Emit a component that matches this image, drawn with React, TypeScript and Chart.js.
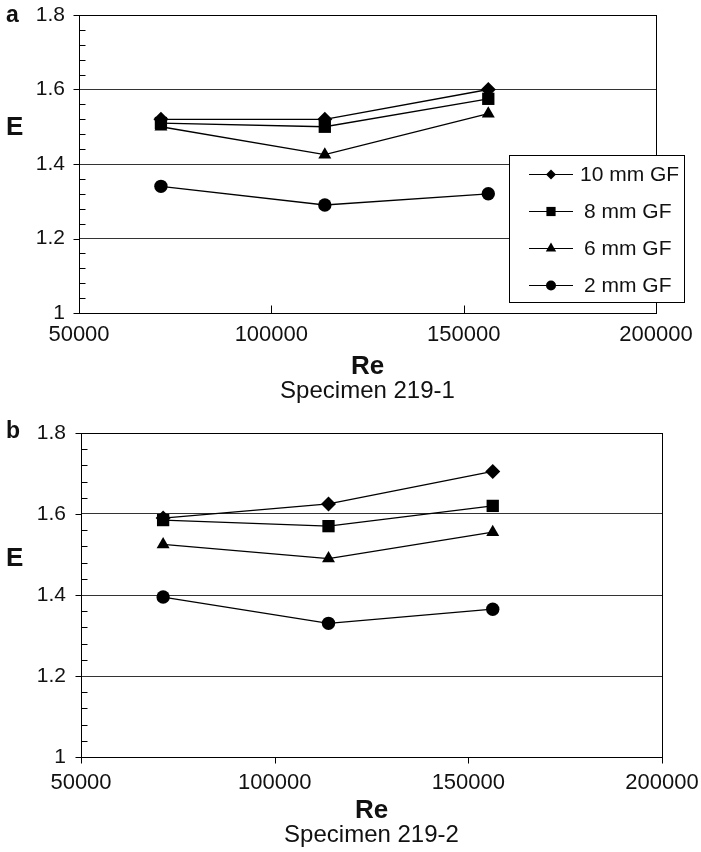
import React, { useEffect, useRef } from 'react';
import { Chart, registerables } from 'chart.js';

Chart.register(...registerables);

// ---------- data ----------
const seriesNames = ['10 mm GF', '8 mm GF', '6 mm GF', '2 mm GF'];
const pointStyles = ['rectRot', 'rect', 'triangle', 'circle'];
const pointRadii = [7.5, 8.7, 7.5, 6.7];

const reA = [71300, 113900, 156400];
const e10A = [1.52, 1.52, 1.6];
const e8A = [1.51, 1.5, 1.575];
const e6A = [1.5, 1.425, 1.535];
const e2A = [1.34, 1.29, 1.32];

const reB = [71200, 113900, 156300];
const e10B = [1.59, 1.625, 1.705];
const e8B = [1.585, 1.57, 1.62];
const e6B = [1.525, 1.49, 1.555];
const e2B = [1.395, 1.33, 1.365];

const xTickValues = [50000, 100000, 150000, 200000];
const yTickValues = [1, 1.2, 1.4, 1.6, 1.8];
const yMinorStep = 0.04;

const FONT = '"Liberation Sans", Arial, Helvetica, sans-serif';

function drawMarker(ctx: CanvasRenderingContext2D, style: string, x: number, y: number, r: number) {
  ctx.beginPath();
  if (style === 'circle') {
    ctx.arc(x, y, r, 0, Math.PI * 2);
  } else if (style === 'rect') {
    const s = Math.SQRT1_2 * r;
    ctx.rect(x - s, y - s, 2 * s, 2 * s);
  } else if (style === 'rectRot') {
    ctx.moveTo(x, y - r);
    ctx.lineTo(x + r, y);
    ctx.lineTo(x, y + r);
    ctx.lineTo(x - r, y);
    ctx.closePath();
  } else if (style === 'triangle') {
    ctx.moveTo(x, y - r);
    ctx.lineTo(x + r * Math.sin(Math.PI * 2 / 3), y - r * Math.cos(Math.PI * 2 / 3));
    ctx.lineTo(x - r * Math.sin(Math.PI * 2 / 3), y - r * Math.cos(Math.PI * 2 / 3));
    ctx.closePath();
  }
  ctx.fill();
}

type PanelCfg = {
  letter: string;
  caption: string;
  re: number[];
  series: number[][];
  height: number;
  plotLeft: number;
  plotRight: number;
  plotTop: number;
  plotBottom: number;
  xTicksInside: boolean;
  xLabelPad: number;
  yLabelPad: number;
  eBaseline: number;
  letterBaseline: number;
  legend: boolean;
};

function makeDecor(cfg: PanelCfg) {
  return {
    id: 'decor',
    afterDraw(chart: any) {
      const ctx: CanvasRenderingContext2D = chart.ctx;
      const area = chart.chartArea;
      const xs = chart.scales.x;
      const ys = chart.scales.y;
      ctx.save();
      ctx.strokeStyle = '#000';
      ctx.lineWidth = 1;
      // frame
      ctx.strokeRect(Math.round(area.left) + 0.5, Math.round(area.top) + 0.5,
        Math.round(area.right - area.left), Math.round(area.bottom - area.top));
      // y ticks
      const n = Math.round((ys.max - ys.min) / yMinorStep);
      const lx = Math.round(area.left) + 0.5;
      for (let i = 0; i <= n; i++) {
        const v = ys.min + i * yMinorStep;
        const py = Math.round(ys.getPixelForValue(v)) + 0.5;
        ctx.beginPath();
        if (i % 5 === 0) {
          ctx.moveTo(lx - 6, py);
          ctx.lineTo(lx, py);
        } else {
          ctx.moveTo(lx, py);
          ctx.lineTo(lx + 6, py);
        }
        ctx.stroke();
      }
      // x ticks
      const by = Math.round(area.bottom) + 0.5;
      xTickValues.forEach((v) => {
        const px = Math.round(xs.getPixelForValue(v)) + 0.5;
        ctx.beginPath();
        if (cfg.xTicksInside) {
          ctx.moveTo(px, by);
          ctx.lineTo(px, by - 8);
        } else {
          ctx.moveTo(px, by);
          ctx.lineTo(px, by + 6);
        }
        ctx.stroke();
      });
      // texts
      ctx.fillStyle = '#111';
      ctx.textBaseline = 'alphabetic';
      ctx.textAlign = 'left';
      ctx.font = `bold 23px ${FONT}`;
      ctx.fillText(cfg.letter, 6, area.top + cfg.letterBaseline);
      ctx.font = `bold 26px ${FONT}`;
      ctx.fillText('E', 6, area.top + cfg.eBaseline);
      const cx = (area.left + area.right) / 2;
      ctx.textAlign = 'center';
      ctx.font = `bold 26px ${FONT}`;
      ctx.fillText('Re', cx, area.bottom + 60.5);
      ctx.font = `24px ${FONT}`;
      ctx.fillText(cfg.caption, cx, area.bottom + 85);

      // legend
      if (cfg.legend) {
        const bx = 509.5, bt = 155.5, bw = 175, bh = 147;
        ctx.fillStyle = '#fff';
        ctx.fillRect(bx, bt, bw, bh);
        ctx.strokeStyle = '#000';
        ctx.lineWidth = 1;
        ctx.strokeRect(bx, bt, bw, bh);
        const rowY = [174, 211, 248, 285];
        const legR = [5, 6.5, 6, 5];
        chart.data.datasets.forEach((ds: any, i: number) => {
          const y = rowY[i] + 0.5;
          ctx.strokeStyle = '#000';
          ctx.lineWidth = 1.2;
          ctx.beginPath();
          ctx.moveTo(529, y);
          ctx.lineTo(573, y);
          ctx.stroke();
          ctx.fillStyle = '#000';
          drawMarker(ctx, ds.pointStyle, 551, y, legR[i]);
          ctx.fillStyle = '#111';
          ctx.font = `21px ${FONT}`;
          ctx.textAlign = 'left';
          ctx.textBaseline = 'middle';
          ctx.fillText(ds.label, i === 0 ? 580 : 584, y + 1);
        });
      }
      ctx.restore();
    },
  };
}

function Panel({ cfg, top }: { cfg: PanelCfg; top: number }) {
  const ref = useRef<HTMLCanvasElement | null>(null);
  useEffect(() => {
    if (!ref.current) return;
    const xAxisH = 40;
    const datasets = cfg.series.map((vals, i) => ({
      label: seriesNames[i],
      data: cfg.re.map((x, j) => ({ x, y: vals[j] })),
      showLine: true,
      borderColor: '#000',
      borderWidth: 1.3,
      backgroundColor: '#000',
      pointBackgroundColor: '#000',
      pointBorderColor: '#000',
      pointBorderWidth: 0,
      pointStyle: pointStyles[i],
      pointRadius: pointRadii[i],
      tension: 0,
      fill: false,
    }));
    const chart = new Chart(ref.current, {
      type: 'scatter',
      data: { datasets } as any,
      options: {
        animation: false,
        responsive: false,
        devicePixelRatio: 1,
        layout: {
          padding: {
            left: 0,
            right: 701 - cfg.plotRight,
            top: cfg.plotTop,
            bottom: cfg.height - cfg.plotBottom - xAxisH,
          },
        },
        plugins: {
          legend: { display: false },
          tooltip: { enabled: false },
          title: { display: false },
        },
        scales: {
          x: {
            type: 'linear',
            min: 50000,
            max: 200000,
            afterBuildTicks: (s: any) => {
              s.ticks = xTickValues.map((v) => ({ value: v }));
            },
            afterFit: (s: any) => {
              s.height = xAxisH;
              s.paddingLeft = 0;
              s.paddingRight = 0;
            },
            grid: { display: false, drawTicks: false },
            border: { display: true, color: '#000', width: 1 },
            ticks: {
              color: '#111',
              font: { family: FONT, size: 22 },
              padding: cfg.xLabelPad,
              maxRotation: 0,
              autoSkip: false,
              callback: (v: any) => String(v),
            },
          },
          y: {
            type: 'linear',
            min: 1,
            max: 1.8,
            afterBuildTicks: (s: any) => {
              s.ticks = yTickValues.map((v) => ({ value: v }));
            },
            afterFit: (s: any) => {
              s.width = cfg.plotLeft;
              s.paddingTop = 0;
              s.paddingBottom = 0;
            },
            grid: { display: true, color: '#333', lineWidth: 1, drawTicks: false },
            border: { display: true, color: '#000', width: 1 },
            ticks: {
              color: '#111',
              font: { family: FONT, size: 21 },
              padding: cfg.yLabelPad,
              autoSkip: false,
              callback: (v: any) => (Number(v) === 1 ? '1' : Number(v).toFixed(1)),
            },
          },
        },
      } as any,
      plugins: [makeDecor(cfg)],
    });
    return () => chart.destroy();
  }, [cfg]);
  return (
    <canvas
      ref={ref}
      width={701}
      height={cfg.height}
      style={{ position: 'absolute', left: 0, top, width: 701, height: cfg.height, display: 'block' }}
    />
  );
}

const panelA: PanelCfg = {
  letter: 'a',
  caption: 'Specimen 219-1',
  re: reA,
  series: [e10A, e8A, e6A, e2A],
  height: 420,
  plotLeft: 79,
  plotRight: 656,
  plotTop: 15,
  plotBottom: 313,
  xTicksInside: true,
  xLabelPad: 9,
  yLabelPad: 14,
  eBaseline: 120,
  letterBaseline: 7,
  legend: true,
};

const panelB: PanelCfg = {
  letter: 'b',
  caption: 'Specimen 219-2',
  re: reB,
  series: [e10B, e8B, e6B, e2B],
  height: 432,
  plotLeft: 81,
  plotRight: 662,
  plotTop: 13,
  plotBottom: 337,
  xTicksInside: false,
  xLabelPad: 13,
  yLabelPad: 15,
  eBaseline: 133,
  letterBaseline: 5,
  legend: false,
};

export default function App() {
  return (
    <div style={{ position: 'absolute', left: 0, top: 0, width: 701, height: 852, background: '#fff', overflow: 'hidden' }}>
      <Panel cfg={panelA} top={0} />
      <Panel cfg={panelB} top={420} />
    </div>
  );
}
